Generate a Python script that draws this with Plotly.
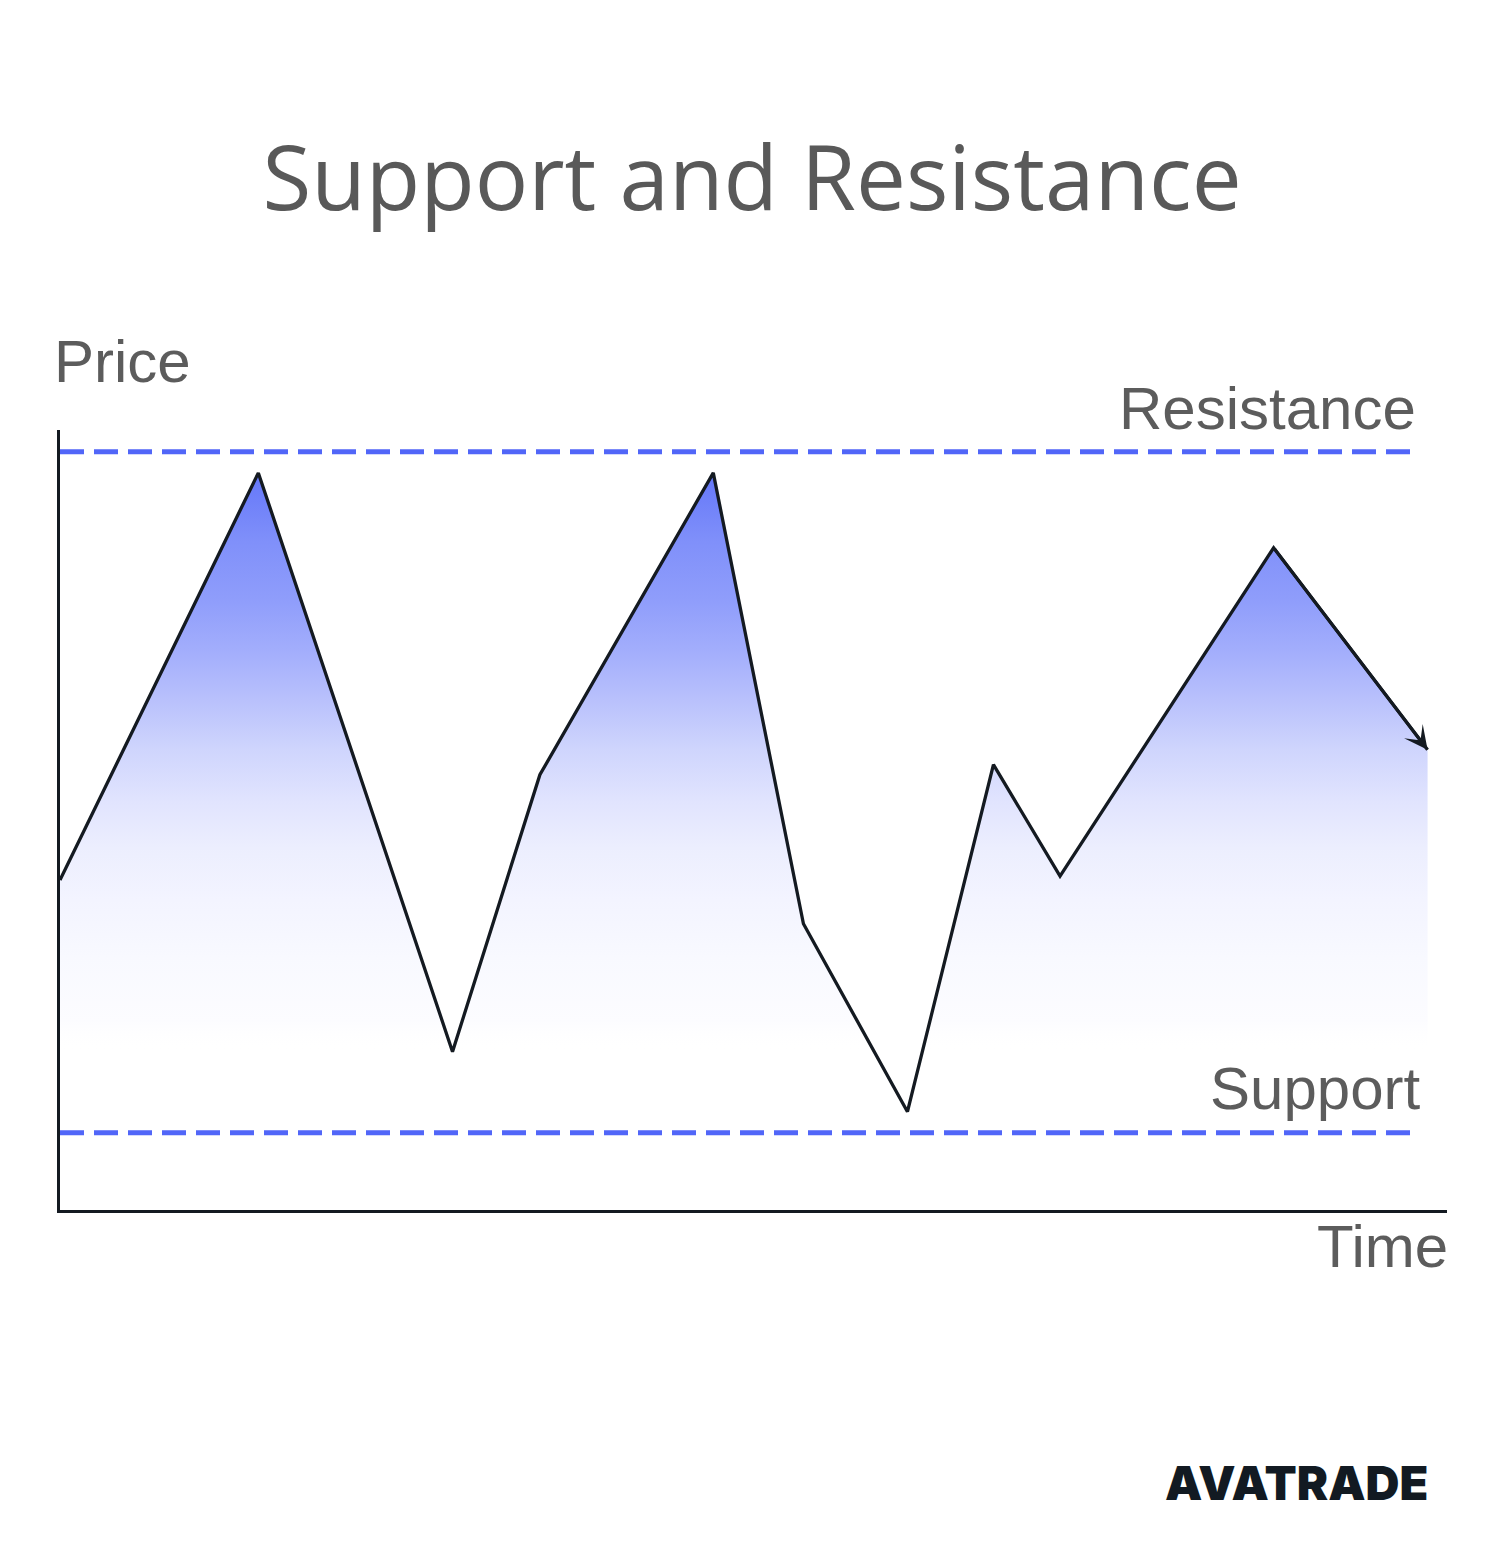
import plotly.graph_objects as go

# ---- data ----
time = [0, 14.3, 28.3, 34.6, 47.1, 53.6, 61.1, 67.3, 72.1, 87.5, 98.6]
price = [42.3, 94.5, 20.3, 55.8, 94.5, 36.7, 12.6, 57.1, 42.8, 84.9, 59.0]
resistance_level = 97.2
support_level = 9.9
level_span = [0, 98.0]

title_text = "Support and Resistance"
y_label = "Price"
x_label = "Time"
res_label = "Resistance"
sup_label = "Support"
brand = "AVATRADE"

# ---- layout geometry (page body has an 8px offset) ----
OFF = 8
W, H = 1505 - OFF, 1559 - OFF
L, R, T, B = 60 - OFF, 1447 - OFF, 430 - OFF, 1210 - OFF

BLUE = "#5166f8"
INK = "#141a21"
GREY = "#5c5c5c"

def px(xp):
    return (xp - OFF - L) / (R - L)

def py(yp):
    return (B - (yp - OFF)) / (B - T)

fig = go.Figure()

# gradient area under the price path
fig.add_trace(go.Scatter(
    x=time, y=price, mode="lines", line=dict(width=0),
    fill="tozeroy",
    fillgradient=dict(
        type="vertical",
        start=20.5, stop=94.5,
        colorscale=[
            [0.0, "rgba(255,255,255,0)"],
            [0.05, "#fcfcff"],
            [0.16, "#f8f9ff"],
            [0.26, "#f3f4ff"],
            [0.35, "#eceefe"],
            [0.43, "#e1e4fe"],
            [0.52, "#cfd5fd"],
            [0.61, "#b8c0fc"],
            [0.69, "#a3aefc"],
            [0.78, "#8f9dfb"],
            [0.88, "#8090fa"],
            [1.0, "#6477f9"],
        ],
    ),
    hoverinfo="skip", showlegend=False,
))

# resistance / support dashed levels
for lvl in (resistance_level, support_level):
    fig.add_trace(go.Scatter(
        x=level_span, y=[lvl, lvl], mode="lines",
        line=dict(color=BLUE, width=5, dash="24px,10px"),
        hoverinfo="skip", showlegend=False,
    ))

# price path
fig.add_trace(go.Scatter(
    x=time, y=price, mode="lines",
    line=dict(color=INK, width=3.3),
    hoverinfo="skip", showlegend=False,
))

# arrowhead at the end of the path
fig.add_annotation(
    x=time[-1], y=price[-1], ax=time[-2], ay=price[-2],
    xref="x", yref="y", axref="x", ayref="y",
    text="", showarrow=True, arrowhead=3, arrowsize=1.3,
    arrowwidth=3, arrowcolor=INK, standoff=0, startstandoff=0,
)

lab_font = dict(family="Liberation Sans, Arial, sans-serif", size=60, color=GREY)

fig.add_annotation(text=y_label, x=px(52), y=py(361), xref="paper", yref="paper",
                   xanchor="left", yanchor="middle", showarrow=False, font=lab_font)
fig.add_annotation(text=res_label, x=px(1418), y=py(408), xref="paper", yref="paper",
                   xanchor="right", yanchor="middle", showarrow=False, font=lab_font)
fig.add_annotation(text=sup_label, x=px(1422), y=py(1088), xref="paper", yref="paper",
                   xanchor="right", yanchor="middle", showarrow=False, font=lab_font)
fig.add_annotation(text=x_label, x=px(1450), y=py(1246), xref="paper", yref="paper",
                   xanchor="right", yanchor="middle", showarrow=False, font=lab_font)

fig.add_annotation(text=brand, x=px(1430), y=py(1482), xref="paper", yref="paper",
                   xanchor="right", yanchor="middle", showarrow=False,
                   font=dict(family="Inter, Roboto, sans-serif", size=47, color="#121a22",
                             weight=900))

fig.update_layout(
    width=W, height=H,
    margin=dict(l=L, r=W - R, t=T, b=H - B, pad=0),
    paper_bgcolor="white", plot_bgcolor="white",
    title=dict(text=title_text, x=(752 - OFF) / W, xref="container", xanchor="center",
               y=1 - (179 - OFF) / H, yref="container", yanchor="middle",
               font=dict(family="Open Sans, sans-serif", size=89, color="#595959")),
    xaxis=dict(range=[0, 100], showgrid=False, zeroline=False, showticklabels=False,
               ticks="", showline=True, linecolor=INK, linewidth=3),
    yaxis=dict(range=[0, 100], showgrid=False, zeroline=False, showticklabels=False,
               ticks="", showline=True, linecolor=INK, linewidth=3),
    showlegend=False,
)

fig.write_html("out.html")
